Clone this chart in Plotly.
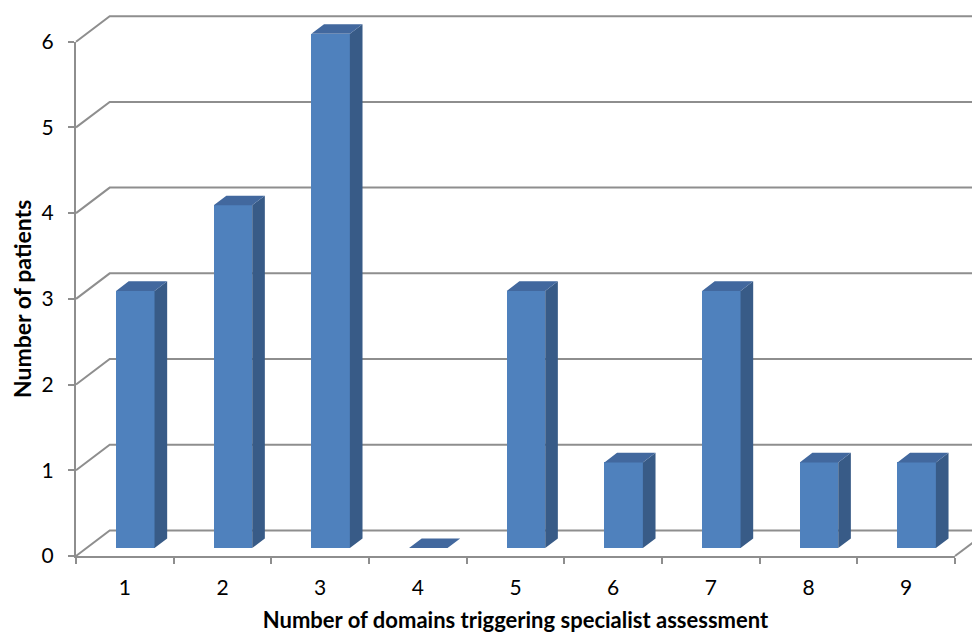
import plotly.graph_objects as go

# ---------------- data ----------------
categories = [1, 2, 3, 4, 5, 6, 7, 8, 9]
patients = [3, 4, 6, 0, 3, 1, 3, 1, 1]
y_tick_values = [0, 1, 2, 3, 4, 5, 6]
x_tick_labels = ["1", "2", "3", "4", "5", "6", "7", "8", "9"]
x_title = "Number of domains triggering specialist assessment"
y_title = "Number of patients"

# ---------------- geometry / style ----------------
PAGE_OFFSET = 8                # default body margin of the html page
W, H = 980 - PAGE_OFFSET, 633 - PAGE_OFFSET
ORIGIN_PX = (76 - PAGE_OFFSET, 556 - PAGE_OFFSET)  # front-left-bottom corner
PX_PER_X = 97.67               # pixels per category
PX_PER_Y = 85.72               # pixels per patient
DEPTH_PX = (33.7, 25.5)        # 3D depth of the back wall in pixels
FRONT_FRAC = 0.31              # bar front plane as fraction of depth
BAR_DEPTH_FRAC = 0.375         # bar thickness as fraction of depth
BAR_WIDTH = 38.5 / PX_PER_X

FRONT = "#4F81BD"
SIDE = "#385B87"
TOP = "#42689E"
GRID = "#8E8E8E"
FONT = "Lato"

n = len(categories)
x_lo, x_hi_axis = min(categories) - 0.5, max(categories) + 0.5
y_top_axis = max(y_tick_values)

# full-figure data ranges (overlay subplots covering the whole page)
x_full = [x_lo - ORIGIN_PX[0] / PX_PER_X, x_lo + (W - ORIGIN_PX[0]) / PX_PER_X]
y_full = [-(H - ORIGIN_PX[1]) / PX_PER_Y, ORIGIN_PX[1] / PX_PER_Y]
dX, dY = DEPTH_PX[0] / PX_PER_X, DEPTH_PX[1] / PX_PER_Y

# --------- back wall gridlines, left-wall diagonals, floor edge ---------
gx, gy = [], []
for v in y_tick_values:
    gx += [x_lo, x_lo + dX, x_full[1] + 1, None]
    gy += [v, v + dY, v + dY, None]
gx += [x_hi_axis, x_hi_axis + dX, None]
gy += [0, dY, None]

# --------- bars ---------
fx0 = FRONT_FRAC * dX
fy0 = FRONT_FRAC * dY
bx = BAR_DEPTH_FRAC * dX
by = BAR_DEPTH_FRAC * dY

side_x, side_y, top_x, top_y = [], [], [], []
for c, v in zip(categories, patients):
    xl = c + fx0 - BAR_WIDTH / 2
    xr = c + fx0 + BAR_WIDTH / 2
    yb = fy0
    yt = fy0 + v
    if v > 0:
        side_x += [xr, xr + bx, xr + bx, xr, xr, None]
        side_y += [yb, yb + by, yt + by, yt, yb, None]
    top_x += [xl, xr, xr + bx, xl + bx, xl, None]
    top_y += [yt, yt, yt + by, yt + by, yt, None]

fig = go.Figure()

# invisible trace to anchor the axes subplot
fig.add_trace(go.Scatter(x=[categories[0]], y=[0], mode="markers",
                         marker=dict(opacity=0), hoverinfo="skip",
                         showlegend=False, xaxis="x", yaxis="y"))

# walls / gridlines (subplot drawn beneath the bars)
fig.add_trace(go.Scatter(x=gx, y=gy, mode="lines",
                         line=dict(color=GRID, width=2),
                         hoverinfo="skip", showlegend=False,
                         xaxis="x2", yaxis="y2"))

# bars (subplot drawn on top of the walls)
fig.add_trace(go.Bar(x=[c + fx0 for c in categories], y=patients,
                     base=[fy0] * n, width=BAR_WIDTH,
                     marker=dict(color=FRONT, line=dict(width=0)),
                     showlegend=False, xaxis="x3", yaxis="y3"))
fig.add_trace(go.Scatter(x=side_x, y=side_y, mode="lines", fill="toself",
                         fillcolor=SIDE, line=dict(width=0, color=SIDE),
                         hoverinfo="skip", showlegend=False,
                         xaxis="x3", yaxis="y3"))
fig.add_trace(go.Scatter(x=top_x, y=top_y, mode="lines", fill="toself",
                         fillcolor=TOP, line=dict(width=0, color=TOP),
                         hoverinfo="skip", showlegend=False,
                         xaxis="x3", yaxis="y3"))

dom_x = [ORIGIN_PX[0] / W, (ORIGIN_PX[0] + (x_hi_axis - x_lo) * PX_PER_X) / W]
dom_y = [(H - ORIGIN_PX[1]) / H, (H - ORIGIN_PX[1] + y_top_axis * PX_PER_Y) / H]

hidden = dict(domain=[0, 1], visible=False, fixedrange=True, automargin=False)

fig.update_layout(
    width=W, height=H,
    margin=dict(l=0, r=0, t=0, b=0, pad=0),
    paper_bgcolor="white",
    plot_bgcolor="rgba(0,0,0,0)",
    font=dict(family=FONT, size=21, color="#000000"),
    bargap=0,
    xaxis=dict(domain=dom_x, range=[x_lo, x_hi_axis], tickmode="array",
               tickvals=categories, ticktext=x_tick_labels, ticks="",
               ticklabelstandoff=12, automargin=False,
               minor=dict(tickmode="array",
                          tickvals=[c - 0.5 for c in categories] + [x_hi_axis],
                          ticks="outside", ticklen=6, tickwidth=2,
                          tickcolor=GRID, showgrid=False),
               showline=True, linecolor=GRID, linewidth=2,
               showgrid=False, zeroline=False, fixedrange=True,
               title=dict(text="<b>" + x_title + "</b>", standoff=15,
                          font=dict(family=FONT, size=22))),
    yaxis=dict(domain=dom_y, range=[0, y_top_axis], tickmode="array",
               tickvals=y_tick_values, ticks="outside", ticklen=6,
               tickwidth=2, tickcolor=GRID, ticklabelstandoff=10,
               automargin=False,
               showline=True, linecolor=GRID, linewidth=2,
               showgrid=False, zeroline=False, fixedrange=True,
               title=dict(text="<b>" + y_title + "</b>", standoff=4,
                          font=dict(family=FONT, size=23))),
    xaxis2=dict(hidden, range=x_full, anchor="y2"),
    yaxis2=dict(hidden, range=y_full, anchor="x2"),
    xaxis3=dict(hidden, range=x_full, anchor="y3"),
    yaxis3=dict(hidden, range=y_full, anchor="x3"),
)

fig.write_html("out.html")
